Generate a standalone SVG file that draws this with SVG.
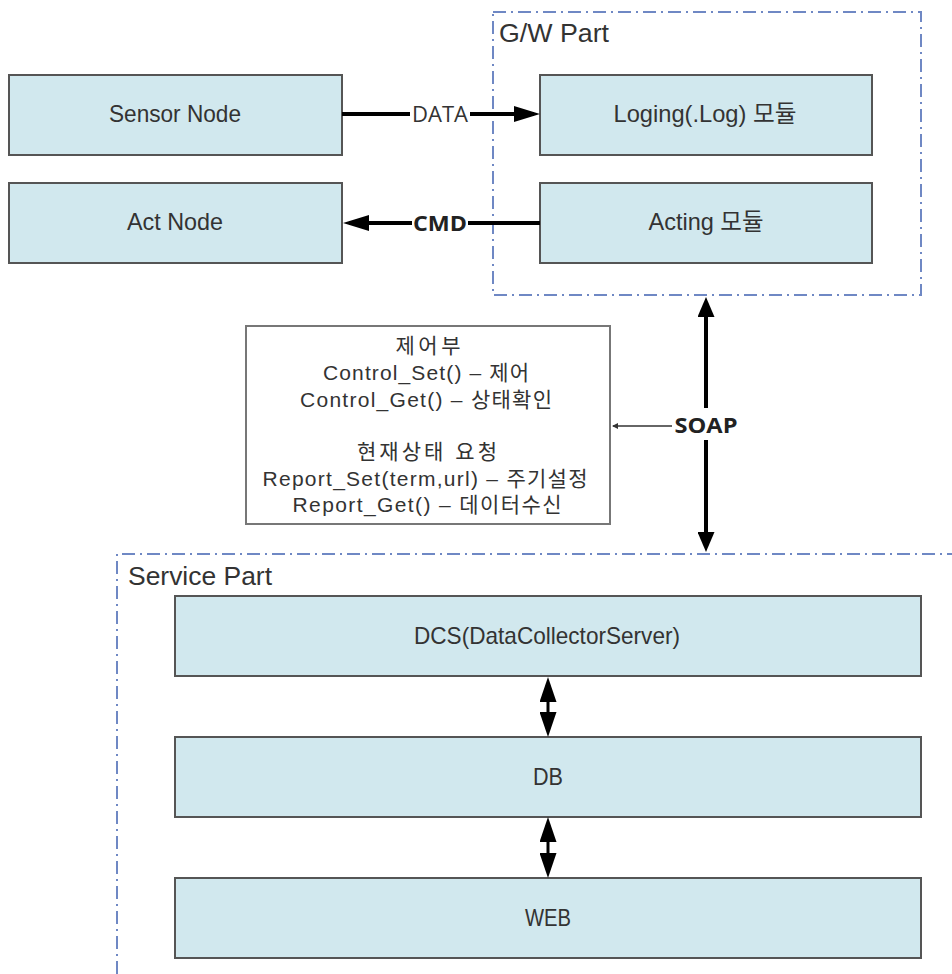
<svg xmlns="http://www.w3.org/2000/svg" width="952" height="974" viewBox="0 0 952 974">
<style>
.box{fill:#d1e8ee;stroke:#555;stroke-width:2}
.lbl{font-family:"Liberation Sans","Noto Sans CJK KR",sans-serif;font-size:24px;fill:#333;text-anchor:middle}
.part{font-family:"Liberation Sans",sans-serif;font-size:25px;fill:#333}
.conn{font-family:"Open Sans","DejaVu Sans",sans-serif;font-size:22px;fill:#333;text-anchor:middle}
.bold{font-weight:bold;fill:#222}
.note{font-family:"Liberation Sans","Noto Sans CJK KR",sans-serif;font-size:21px;fill:#333;text-anchor:middle}
.dash{fill:none;stroke:#6f88c4;stroke-width:2;stroke-dasharray:13 5 2 5}
.thick{stroke:#000;stroke-width:4;fill:none}
</style>
<defs>
<marker id="ah" markerUnits="userSpaceOnUse" markerWidth="26" markerHeight="16" refX="20" refY="8" orient="auto-start-reverse" viewBox="0 0 26 16">
<path d="M0,0 L26,8 L0,16 z" fill="#000"/>
</marker>
<marker id="av" markerUnits="userSpaceOnUse" markerWidth="25" markerHeight="17" refX="19" refY="8.5" orient="auto-start-reverse" viewBox="0 0 25 17">
<path d="M0,0 L25,8.5 L0,17 z" fill="#000"/>
</marker>
<marker id="as" markerUnits="userSpaceOnUse" markerWidth="20" markerHeight="17" refX="15" refY="8.5" orient="auto-start-reverse" viewBox="0 0 20 17">
<path d="M0,0 L20,8.5 L0,17 z" fill="#000"/>
</marker>
<marker id="at" markerUnits="userSpaceOnUse" markerWidth="6" markerHeight="6" refX="5" refY="3" orient="auto" viewBox="0 0 6 6">
<path d="M0,0 L6,3 L0,6 z" fill="#333"/>
</marker>
</defs>

<g id="gw-part">
<rect class="dash" x="493" y="12" width="428" height="283"/>
<text class="part" x="499" y="42" textLength="110" lengthAdjust="spacingAndGlyphs">G/W Part</text>
</g>
<g id="service-part">
<path class="dash" d="M117,974 L117,554 L952,554"/>
<text class="part" x="128" y="585" textLength="144" lengthAdjust="spacingAndGlyphs">Service Part</text>
</g>

<g id="sensor-node">
<rect class="box" x="9" y="75" width="333" height="80"/>
<text class="lbl" x="175" y="122" textLength="132" lengthAdjust="spacingAndGlyphs">Sensor Node</text>
</g>
<g id="act-node">
<rect class="box" x="9" y="183" width="333" height="80"/>
<text class="lbl" x="175" y="230" textLength="96" lengthAdjust="spacingAndGlyphs">Act Node</text>
</g>
<g id="loging">
<rect class="box" x="540" y="75" width="332" height="80"/>
<text class="lbl" x="705" y="122" textLength="183" lengthAdjust="spacingAndGlyphs">Loging(.Log) 모듈</text>
</g>
<g id="acting">
<rect class="box" x="540" y="183" width="332" height="80"/>
<text class="lbl" x="706" y="230" textLength="115" lengthAdjust="spacingAndGlyphs">Acting 모듈</text>
</g>

<g id="control-note">
<rect x="246" y="326" width="364" height="198" fill="#fff" stroke="#777" stroke-width="2"/>
<text class="note" x="428" y="353" textLength="65">제어부</text>
<text class="note" x="426" y="380" textLength="206">Control_Set() – 제어</text>
<text class="note" x="426" y="407" textLength="252">Control_Get() – 상태확인</text>
<text class="note" x="427" y="459" textLength="140">현재상태 요청</text>
<text class="note" x="425" y="486" textLength="325">Report_Set(term,url) – 주기설정</text>
<text class="note" x="427" y="512" textLength="269">Report_Get() – 데이터수신</text>
</g>

<g id="dcs">
<rect class="box" x="175" y="596" width="746" height="80"/>
<text class="lbl" x="547" y="644" textLength="266" lengthAdjust="spacingAndGlyphs">DCS(DataCollectorServer)</text>
</g>
<g id="db">
<rect class="box" x="175" y="737" width="746" height="80"/>
<text class="lbl" x="548" y="785" textLength="30" lengthAdjust="spacingAndGlyphs">DB</text>
</g>
<g id="web">
<rect class="box" x="175" y="878" width="746" height="80"/>
<text class="lbl" x="548" y="926" textLength="46" lengthAdjust="spacingAndGlyphs">WEB</text>
</g>

<g id="connectors">
<line class="thick" x1="342" y1="114" x2="410" y2="114"/>
<line class="thick" x1="470" y1="114" x2="534" y2="114" marker-end="url(#ah)"/>
<text class="conn" x="440" y="122" textLength="56" lengthAdjust="spacingAndGlyphs">DATA</text>
<line class="thick" x1="412" y1="223" x2="349" y2="223" marker-end="url(#ah)"/>
<line class="thick" x1="468" y1="223" x2="540" y2="223"/>
<text class="conn bold" x="440" y="231" font-size="23" textLength="54" lengthAdjust="spacingAndGlyphs">CMD</text>
<line class="thick" x1="706" y1="302" x2="706" y2="408" marker-start="url(#as)"/>
<line class="thick" x1="706" y1="440" x2="706" y2="547" marker-end="url(#as)"/>
<text class="conn bold" x="706" y="433" font-size="23" textLength="63" lengthAdjust="spacingAndGlyphs">SOAP</text>
<line x1="672" y1="426" x2="613" y2="426" stroke="#333" stroke-width="1.5" marker-end="url(#at)"/>
<line x1="548" y1="683" x2="548" y2="731" stroke="#000" stroke-width="3" marker-start="url(#av)" marker-end="url(#av)"/>
<line x1="548" y1="823" x2="548" y2="872" stroke="#000" stroke-width="3" marker-start="url(#av)" marker-end="url(#av)"/>
</g>
</svg>
